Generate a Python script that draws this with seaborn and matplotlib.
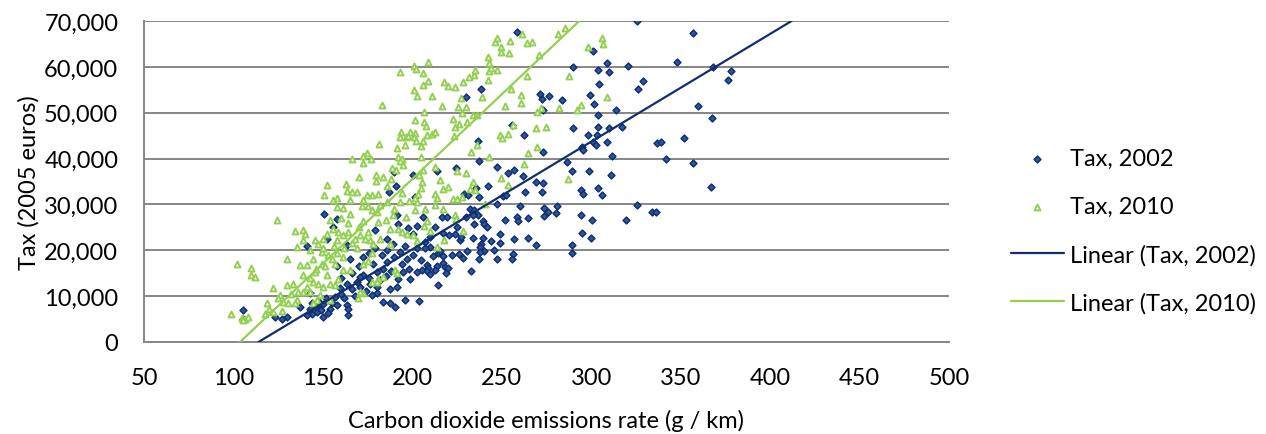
import matplotlib
matplotlib.use("Agg")
import matplotlib.pyplot as plt
import seaborn as sns
import pandas as pd
from matplotlib.ticker import FuncFormatter

# ---------------- data ----------------
series_names = ["Tax, 2002", "Tax, 2010"]
trend_names = ["Linear (Tax, 2002)", "Linear (Tax, 2010)"]

pts_2002 = [
    (189.7, 37100), (200.5, 36500),
    (190.6, 34100), (186.9, 32700), (201.5, 31600), (150.8, 28000), (157.7, 26900), (155.8, 25100),
    (191.2, 27800), (192.1, 25800), (197.8, 24900), (202.4, 25300), (206, 27200), (200.2, 23600),
    (152.1, 22500), (140.9, 20900), (163.3, 21200), (179.1, 24500), (185.6, 22500), (189.4, 21400),
    (185.6, 20000), (193.1, 19600), (202.4, 20400), (207, 21800), (200.5, 18900), (196.8, 18200),
    (204.6, 17800), (208, 16700), (205.2, 15600), (202.4, 15300), (194.9, 15300), (198.7, 13800),
    (192.1, 13800), (191.2, 12000), (187.5, 11600), (183.8, 8800), (187.5, 8400), (190.3, 7700),
    (195.8, 9100), (203.7, 8900), (172.6, 18500), (178.2, 17100), (183.8, 16000), (180, 15300),
    (172.6, 14600), (168.9, 13100), (170.7, 14200), (176.3, 12700), (180, 12000), (180, 10600),
    (177.3, 10200), (163.3, 12700), (159.5, 11700), (156.7, 9800), (157.7, 8000), (154, 7300),
    (150.2, 5500), (148.4, 7300), (146.5, 6600), (143.7, 6200), (140.9, 5900), (142.8, 7300),
    (145.6, 7700), (137.2, 7700), (142.8, 10600), (163.3, 8000), (164.2, 5900), (164.2, 7300),
    (129.7, 5500), (126.9, 5100), (123.2, 5500), (105.1, 6900), (105.5, 5100),
    (144, 8500), (147, 9000), (150, 8200), (152, 9500), (149, 6900), (153, 6300), (155, 8600),
    (160, 10500), (162, 9500), (166, 11500), (168, 10000), (171, 12000), (174, 11200), (176, 14000),
    (182, 13500), (185, 14500), (188, 15500), (186, 17500), (190, 18500), (194, 17000), (198, 16000),
    (196, 21000), (183, 19000), (179, 20500), (176, 19500), (170, 16500), (166, 15000), (160, 14000),
    (158, 16500), (165, 18000),
    (258.5, 67700), (325.4, 69900), (301.2, 63500), (289.6, 59900), (303.6, 59300), (309, 60900),
    (310.1, 58800), (320.7, 60100), (304.3, 56300), (328.8, 56900), (326.3, 55200), (238.2, 55200),
    (230, 53500), (271.4, 54100), (276.4, 53600), (272.3, 52900), (283.7, 52700), (273.2, 50700),
    (299.5, 53800), (301.6, 52000), (313.7, 50700), (304, 49600), (255.7, 47400), (262.6, 45200),
    (290, 46700), (303.6, 46900), (309.9, 46600), (317, 46900), (298.4, 45200), (303.4, 45100),
    (301.2, 43600), (302.5, 42900), (308.6, 43600), (294.7, 42500), (295.6, 41800), (236.9, 43800),
    (273.2, 41400), (311.4, 40600), (237.5, 39400), (247.5, 38100), (224.4, 38000), (213.6, 37300),
    (253.7, 36900), (256.8, 37400), (261.7, 36100), (286.3, 39200), (289.4, 37200), (298.9, 37200),
    (311, 36500),
    (269.1, 34900), (272.9, 34600), (272.7, 32800), (263, 32800), (242.1, 34100), (235.6, 33600),
    (229.1, 32300), (231, 32100), (237.5, 31700), (250.9, 31800), (252.4, 32000), (247.5, 30000),
    (260.2, 29600), (273.6, 29200), (276, 28300), (280.1, 28200), (281.1, 29600), (273.6, 27400),
    (294.3, 33200), (295.2, 32200), (304, 33600), (305.8, 32000), (325.8, 29900), (319.4, 26500),
    (300.2, 26500), (294.1, 27800), (294.7, 23800), (299.7, 22700), (289.3, 21200), (289.3, 19300),
    (269.1, 21200), (264.5, 22700), (256.8, 22400), (264.5, 27000), (258.3, 27200), (258.9, 26300),
    (251.8, 26700), (249, 23500), (249, 21600), (243.8, 22000), (245.8, 20100), (256.5, 19100),
    (255.5, 18200), (247.2, 18000), (239.3, 22700), (238.4, 21400), (238, 20700), (240.3, 19800),
    (237.8, 19600), (237.5, 18000), (234.1, 22700), (230.4, 19800), (232.6, 15500), (228.1, 18400),
    (226.3, 19100), (226.7, 22200), (227.2, 23000), (234.5, 25800), (239.3, 26300), (240.3, 25700),
    (241.6, 25100), (236.9, 27800), (232.2, 29100), (234.7, 28700), (233.7, 27600), (230, 27200),
    (225.2, 25100), (223.9, 23600), (222, 18900), (220.7, 23300), (217, 23800), (217.3, 18700),
    (217.3, 17200), (218.3, 16400), (220.1, 16200), (218.8, 15100), (214.5, 19300), (215.5, 19900),
    (213.6, 16500), (212.7, 15600), (214.5, 12400), (209, 16200), (211.8, 18700), (209.9, 20700),
    (207.1, 20600), (208.4, 15400), (209.9, 14900), (209.9, 22900), (212.7, 25100), (216.4, 27200),
    (219.2, 27200),
    (357.1, 67300), (347.8, 61100), (368.3, 60000), (378, 59000), (376.5, 57200), (359.9, 51500),
    (367.4, 48800), (337, 43500), (339, 43700), (352.1, 44500), (341.8, 39800), (357.1, 39100),
    (367, 33750), (334.2, 28300), (336.1, 28300),
]

pts_2010 = [
    (193, 58800), (201, 60100), (202, 59500), (208.5, 61000), (205.7, 58600), (209, 56900),
    (201, 55000), (202.4, 53700), (205.7, 56000), (183, 51700), (206.5, 50100), (201.6, 48500),
    (206.7, 48000), (207.6, 47000), (208, 45100), (193.6, 45900), (198.7, 45900), (201.5, 45600),
    (193, 44800), (196.4, 44700), (197.8, 45000), (201, 44600), (202, 43800), (205.7, 43800),
    (195.8, 43000), (204.8, 42700), (181.5, 43200), (191.2, 42200), (166, 39900), (172.6, 40600),
    (174.8, 41200), (176.7, 39900), (172.2, 39000), (192.1, 40300), (194, 39900), (193, 39400),
    (194.9, 38700), (204.8, 40300), (188.4, 38000), (190.6, 37600), (179.7, 36400), (183.8, 35900),
    (188, 35600), (204, 36500), (206, 37500),
    (179.5, 35200), (152.1, 34300), (150.8, 31950), (163.3, 33000), (166, 32700), (168.9, 32700),
    (165.2, 30900), (155.8, 30900), (157.7, 31400), (174.4, 32000), (177.2, 32100), (181, 32300),
    (172.6, 30900), (171.6, 29600), (175.4, 29600), (181.9, 29800), (185.6, 30500), (193.1, 30500),
    (198.3, 30700), (202.4, 30500), (205.6, 34900), (204.6, 33600), (203.3, 32300), (201.5, 31400),
    (207, 29100), (201.5, 28700), (161.4, 29200), (180, 28300), (177.3, 28700), (189.4, 27800),
    (196.4, 27200), (124.5, 26500), (154, 26500), (165.2, 28000), (172.6, 26300), (181, 26200),
    (164.2, 26000), (134.4, 24100), (139, 24500), (140, 23600), (139, 22200), (145.6, 22200),
    (150.2, 22500), (152.1, 23600), (155.8, 24700), (158.6, 24000), (135.3, 20700), (142.8, 20000),
    (147.4, 21400), (149.3, 19600), (157.7, 22200), (161.4, 23300), (164.2, 24000), (170.7, 23300),
    (173.5, 22500), (176.3, 22200), (178.2, 21400), (181.9, 22500), (187.5, 21400), (192.1, 24700),
    (194, 24000), (196.8, 23600), (200.5, 23300), (202.8, 22000), (187.5, 24700), (168.9, 20400),
    (177.3, 19300), (172.6, 17100), (175.4, 17600), (154.9, 18200), (161.4, 18500), (165.2, 15600),
    (161.4, 15600), (152.1, 14600), (145.6, 15300), (149.3, 17100), (140.9, 16700), (137.2, 16700),
    (129.7, 18200), (144.7, 18200), (139, 14600), (144.7, 13100), (147.4, 12700), (150.2, 12000),
    (154, 12700), (156.7, 12400), (158.6, 13800), (133.5, 12700), (129.7, 12400), (122.3, 11700),
    (139, 10800), (135.3, 9100), (126, 10200), (127.8, 8800), (130.6, 8400), (134.4, 8400),
    (142.8, 10900), (144.7, 8400), (146.5, 9100), (148.4, 10200), (154, 9100), (118.6, 8400),
    (119.6, 7300), (122.3, 6600), (126.9, 6700), (117.6, 6200), (102, 17000), (109.6, 16200),
    (109.6, 14700), (112, 14200), (98.6, 6200), (104.6, 5300), (106.4, 5100), (108.3, 5500),
    (105.5, 4800), (169.8, 9500), (172.6, 10600), (170.7, 11000), (181, 13800), (183.8, 14200),
    (190.3, 15600), (191.2, 15100), (177.3, 13100), (180, 13100),
    (150, 20500), (153, 19000), (156, 21000), (158, 19500), (162, 20500), (166, 21500), (168, 22500),
    (146, 16000), (151, 16500), (157, 17000), (143, 14000), (136, 11000), (141, 12000), (132, 10500),
    (125, 9500), (160, 27000), (170, 25000), (175, 24000), (185, 26500), (190, 29000), (194, 32500),
    (186, 34000), (170, 36000), (163, 34500), (158, 29500),
    (210.8, 53600), (217.7, 56700), (220.1, 55800), (223.9, 55700), (216.4, 51400), (228.5, 56800),
    (231.9, 57700), (234.5, 58300), (235, 59300), (242.1, 57200), (242.9, 59000), (243.8, 59700),
    (247.1, 59300), (242.5, 62100), (243.1, 60900), (246.2, 65400), (247.2, 66400), (249.6, 64400),
    (249.6, 63300), (254, 63000), (254.6, 65700), (261.1, 67200), (264.3, 65100), (267.1, 65500),
    (271, 62600), (281.6, 67200), (285.3, 68500), (305.8, 66300), (306.8, 65000), (298, 64300),
    (227, 53200), (225.7, 51200), (222.9, 48700), (223.9, 46900), (226.3, 47600), (230.4, 48000),
    (234.1, 49600), (236, 49400), (239, 53400), (230, 51200), (227.6, 50000), (223.5, 44900),
    (210.8, 45400), (212.7, 45800), (236, 42900), (232.6, 41400), (243.1, 40300), (249, 45200),
    (250, 44500), (253.3, 45400), (252, 51400), (255.2, 55100), (260.8, 53900), (260.8, 52200),
    (264.3, 57900), (256.1, 47400), (269, 46700), (274.7, 46900), (269.9, 50100), (271.7, 51000),
    (282.2, 51000), (291.9, 50700), (294.1, 51600), (287.6, 58100), (309, 53400), (264.8, 41300),
    (269.5, 42500), (262.4, 38900), (212.7, 38200), (224.8, 37300), (230, 36900),
    (215.5, 35400), (220.1, 33800), (217.3, 33300), (212.7, 32200), (213.6, 31400), (222.9, 31100),
    (224.8, 31100), (227.6, 31600), (232.2, 33400), (234.1, 34900), (235, 33200), (249.6, 35700),
    (253.7, 34300), (286.8, 35600), (240.6, 30000), (212.7, 29800), (217.3, 29100), (223.9, 27800),
    (224.4, 26900), (208.4, 26400), (206.5, 25400), (209.9, 24300), (217.7, 22200), (228.5, 24300),
    (214, 20700),
]

# Excel linear trend lines, endpoints
trend_2002_x = [114, 412]
trend_2002_y = [0, 70000]
trend_2010_x = [103.7, 293.3]
trend_2010_y = [0, 70000]

x_ticks = [50, 100, 150, 200, 250, 300, 350, 400, 450, 500]
y_ticks = [0, 10000, 20000, 30000, 40000, 50000, 60000, 70000]

# ---------------- style ----------------
NAVY = "#102F6E"
NAVY_FILL = "#2E58A0"
GREEN = "#92D050"
GRID = "#868686"
TEXT = "#000000"
FS = 17

sns.set_theme(style="white")
plt.rcParams["font.family"] = ["Lato", "DejaVu Sans"]

fig = plt.figure(figsize=(12.66, 4.35), dpi=100)
ax = fig.add_axes([144 / 1266, 1 - 343 / 435, (949 - 144) / 1266, (343 - 22) / 435])

df02 = pd.DataFrame(pts_2002, columns=["co2", "tax"])
df10 = pd.DataFrame(pts_2010, columns=["co2", "tax"])

sns.scatterplot(data=df02, x="co2", y="tax", ax=ax, marker="D", s=12,
                facecolor=NAVY_FILL, edgecolor=NAVY, linewidth=1.1,
                label=series_names[0], zorder=3)
sns.scatterplot(data=df10, x="co2", y="tax", ax=ax, marker="^", s=18,
                facecolor="white", edgecolor=GREEN, linewidth=1.4,
                label=series_names[1], zorder=4)
sns.lineplot(x=trend_2002_x, y=trend_2002_y, ax=ax, color=NAVY, linewidth=1.6,
             label=trend_names[0], zorder=5)
sns.lineplot(x=trend_2010_x, y=trend_2010_y, ax=ax, color=GREEN, linewidth=1.6,
             label=trend_names[1], zorder=5)

ax.set_xlim(50, 500)
ax.set_ylim(0, 70000)
ax.set_xticks(x_ticks)
ax.set_yticks(y_ticks)
ax.yaxis.set_major_formatter(FuncFormatter(lambda v, p: f"{int(v):,}"))
ax.xaxis.set_major_formatter(FuncFormatter(lambda v, p: f"{int(v)}"))

ax.grid(axis="y", color=GRID, linewidth=1.4)
ax.grid(axis="x", visible=False)
ax.set_axisbelow(True)
for s in ["top", "right"]:
    ax.spines[s].set_visible(False)
for s in ["left", "bottom"]:
    ax.spines[s].set_color(GRID)
    ax.spines[s].set_linewidth(1.4)

ax.tick_params(axis="both", which="major", direction="out", length=6.5, width=1.4,
               color=GRID, labelsize=FS, labelcolor=TEXT)
ax.tick_params(axis="x", pad=11.5)
ax.tick_params(axis="y", pad=12)

ax.set_xlabel("Carbon dioxide emissions rate (g / km)", fontsize=FS, color=TEXT, labelpad=15)
ax.set_ylabel("Tax (2005 euros)", fontsize=FS, color=TEXT, labelpad=3)

leg = ax.legend(loc="upper left", bbox_to_anchor=(999 / 1266, 1 - 137 / 435),
                bbox_transform=fig.transFigure, frameon=False, fontsize=FS,
                borderpad=0, handlelength=2.25, handletextpad=0.25, labelspacing=1.14,
                markerscale=1.0)
for t in leg.get_texts():
    t.set_color(TEXT)

fig.savefig("out.png", dpi=100)
